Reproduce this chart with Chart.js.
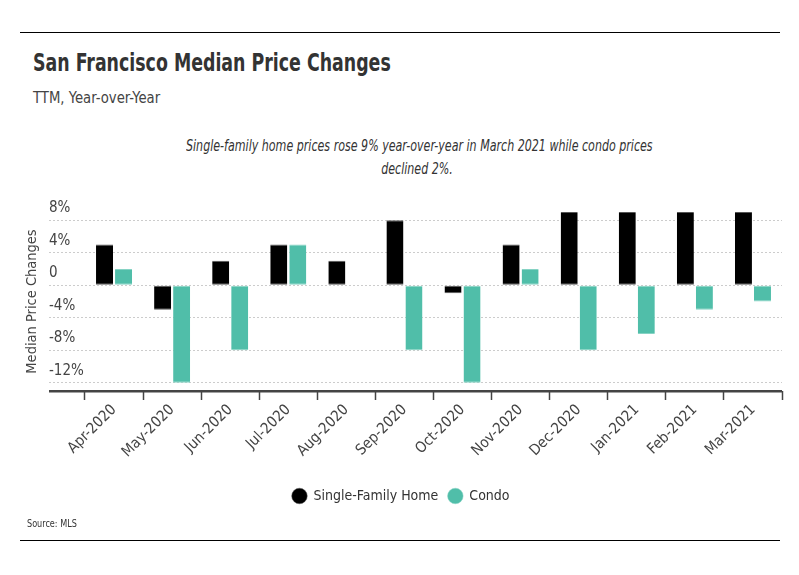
<!DOCTYPE html>
<html><head><meta charset="utf-8">
<script src="https://cdn.jsdelivr.net/npm/chart.js@4.4.1/dist/chart.umd.min.js"></script>
<style>
html,body{margin:0;padding:0;background:#fff;}
#wrap{position:relative;width:799px;height:575px;overflow:hidden;font-family:'Liberation Sans Narrow','Arial Narrow','DejaVu Sans Condensed',sans-serif;}
canvas{position:absolute;left:0;top:0;}
.rule{position:absolute;left:20px;width:760px;height:1px;background:#000;}
.t{position:absolute;white-space:nowrap;transform-origin:0 0;}
</style></head><body>
<div id="wrap">
<div class="rule" style="top:32px"></div>
<div class="t" style="left:33px;top:51px;font-size:24px;line-height:24px;font-weight:bold;color:#333;transform:scaleX(0.805)">San Francisco Median Price Changes</div>
<div class="t" style="left:33px;top:90px;font-size:16px;line-height:16px;color:#444;transform:scaleX(0.92)">TTM, Year-over-Year</div>
<div class="t" style="left:117px;top:134px;width:600px;text-align:center;font-size:16px;line-height:23px;font-style:italic;color:#333;transform-origin:300px 0;transform:scaleX(0.77)">Single-family home prices rose 9% year-over-year in March 2021 while condo prices<br>declined 2%.</div>
<canvas id="c" width="799" height="575"></canvas>
<div class="t" style="left:27px;top:518px;font-size:11px;line-height:11px;color:#333;transform:scaleX(0.82)">Source: MLS</div>
<div class="rule" style="top:540px"></div>
</div>
<script>
const months = ['Apr-2020','May-2020','Jun-2020','Jul-2020','Aug-2020','Sep-2020','Oct-2020','Nov-2020','Dec-2020','Jan-2021','Feb-2021','Mar-2021'];
const singleFamily = [5, -3, 3, 5, 3, 8, -1, 5, 9, 9, 9, 9];
const condo = [2, -12, -8, 5, 0, -8, -12, 2, -8, -6, -3, -2];
const yTickValues = [-12, -8, -4, 0, 4, 8];
const yMin = -13, yMax = 9;
const yTitle = 'Median Price Changes';
const seriesNames = ['Single-Family Home', 'Condo'];

const FONT = "'Liberation Sans Narrow','Arial Narrow','DejaVu Sans Condensed',sans-serif";
Chart.defaults.font.family = FONT;
Chart.defaults.color = '#444';

const isMin = c => c.tick && c.tick.value === yMin;

new Chart(document.getElementById('c'), {
  type: 'bar',
  data: {
    labels: months,
    datasets: [
      { label: seriesNames[0], data: singleFamily, yAxisID: 'y', backgroundColor: '#000000', borderColor: '#555555',
        borderWidth: {top:1, bottom:1, left:0, right:0}, borderSkipped: false,
        categoryPercentage: 0.655, barPercentage: 0.895 },
      { label: seriesNames[1], data: condo, yAxisID: 'y', backgroundColor: '#50bea9', borderColor: '#86d3c4',
        borderWidth: {top:1, bottom:1, left:0, right:0}, borderSkipped: false,
        categoryPercentage: 0.655, barPercentage: 0.895 }
    ]
  },
  options: {
    responsive: false,
    animation: false,
    events: [],
    layout: { padding: { top: 212, left: 20, right: 17, bottom: 62 } },
    plugins: {
      tooltip: { enabled: false },
      title: { display: false },
      legend: {
        position: 'bottom',
        labels: { usePointStyle: true, pointStyle: 'circle', boxWidth: 14, boxHeight: 11,
          padding: 10, color: '#333', font: { size: 14 } }
      }
    },
    scales: {
      x: {
        grid: { display: true, drawOnChartArea: false, drawTicks: true, offset: true,
          tickLength: 9, tickColor: '#444', tickWidth: 1.5 },
        border: { display: false },
        ticks: { autoSkip: false, maxRotation: 45, minRotation: 45, font: { size: 15 }, color: '#444', padding: 1 },
        afterFit: s => { s.height = 88; }
      },
      y: {
        position: 'left', min: yMin, max: yMax,
        afterBuildTicks: s => { s.ticks = [yMin].concat(yTickValues).map(v => ({ value: v })); },
        ticks: {
          crossAlign: 'far', labelOffset: -12, padding: 0, font: { size: 15 }, color: '#444',
          callback: v => v === yMin ? '' : (v === 0 ? '0' : v + '%')
        },
        grid: {
          color: c => isMin(c) ? '#444' : '#cccccc',
          lineWidth: c => isMin(c) ? 2.5 : 1,
          tickColor: c => isMin(c) ? '#444' : '#cccccc',
          tickWidth: c => isMin(c) ? 2.5 : 1,
          tickBorderDash: c => isMin(c) ? [] : [2, 2],
          tickLength: 36, drawTicks: true
        },
        border: { display: false, dash: c => isMin(c) ? [] : [2, 2] },
        afterFit: s => { s.width = 36; }
      },
      yTitleAxis: {
        type: 'linear', position: 'left', weight: 1, min: 0, max: 1,
        ticks: { display: false },
        grid: { display: false, drawTicks: false },
        border: { display: false },
        title: { display: true, text: yTitle, color: '#444', font: { size: 14.5 }, padding: { top: 4, bottom: 4 } },
        afterFit: s => { s.width = 29; }
      }
    }
  }
});
</script>
</body></html>
